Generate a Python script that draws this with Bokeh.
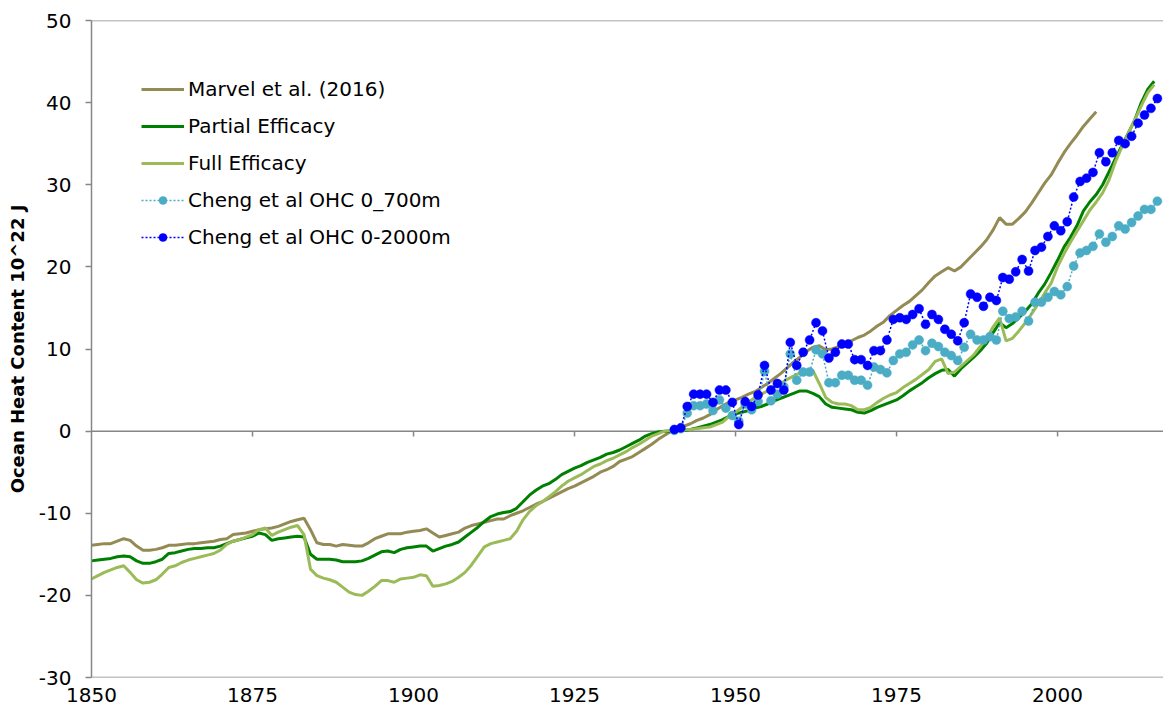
from bokeh.plotting import figure
from bokeh.models import Range1d, FixedTicker, Span, Legend, LegendItem
from bokeh.embed import file_html
from bokeh.resources import INLINE

# ---------------- data ----------------
marvel_years = list(range(1850, 2007))
marvel = [
    -13.9, -13.8, -13.7, -13.7, -13.4, -13.1, -13.3, -14.0, -14.5, -14.5,
    -14.4, -14.2, -13.9, -13.9, -13.8, -13.7, -13.7, -13.6, -13.5, -13.4,
    -13.2, -13.1, -12.6, -12.5, -12.4, -12.2, -12.0, -11.9, -11.8, -11.6,
    -11.3, -11.0, -10.8, -10.6, -12.0, -13.6, -13.8, -13.8, -14.0, -13.8,
    -13.9, -14.0, -14.0, -13.6, -13.1, -12.8, -12.5, -12.5, -12.5, -12.3,
    -12.2, -12.1, -11.9, -12.4, -12.9, -12.7, -12.5, -12.3, -11.8, -11.5,
    -11.3, -11.1, -10.9, -10.7, -10.7, -10.3, -10.0, -9.7, -9.3, -8.9,
    -8.6, -8.2, -7.8, -7.4, -7.0, -6.7, -6.3, -5.9, -5.5, -5.0,
    -4.7, -4.3, -3.7, -3.4, -3.1, -2.6, -2.1, -1.6, -1.0, -0.5,
    0.0, 0.2, 0.6, 0.9, 1.3, 1.6, 2.0, 2.6, 3.1, 3.5,
    3.8, 4.1, 4.5, 4.8, 5.3, 5.8, 6.4, 7.0, 7.7, 8.4,
    9.0, 9.7, 10.2, 10.4, 9.9, 10.0, 10.3, 10.6, 11.0, 11.4,
    11.7, 12.2, 12.8, 13.3, 14.1, 14.7, 15.3, 15.8, 16.5, 17.2,
    18.1, 18.9, 19.4, 19.9, 19.5, 20.0, 20.8, 21.6, 22.4, 23.3,
    24.5, 26.0, 25.2, 25.2, 25.9, 26.7, 27.8, 29.0, 30.2, 31.2,
    32.6, 33.9, 35.0, 36.0, 37.1, 38.0, 38.9,
]

model_years = list(range(1850, 2016))
partial = [
    -15.8, -15.7, -15.6, -15.5, -15.3, -15.2, -15.3, -15.8, -16.1, -16.1,
    -15.9, -15.6, -14.9, -14.8, -14.6, -14.4, -14.3, -14.3, -14.2, -14.2,
    -14.0, -13.7, -13.4, -13.2, -13.0, -12.8, -12.4, -12.6, -13.3, -13.1,
    -13.0, -12.9, -12.8, -12.9, -15.0, -15.6, -15.6, -15.6, -15.7, -15.9,
    -15.9, -15.9, -15.8, -15.5, -15.1, -14.7, -14.6, -14.8, -14.4, -14.2,
    -14.1, -14.0, -14.0, -14.6, -14.3, -14.0, -13.8, -13.5, -12.9, -12.3,
    -11.7, -11.0, -10.4, -10.1, -9.9, -9.8, -9.4, -8.6, -7.8, -7.2,
    -6.7, -6.4, -5.9, -5.3, -4.9, -4.5, -4.2, -3.8, -3.5, -3.2,
    -2.8, -2.6, -2.3, -1.9, -1.5, -1.1, -0.6, -0.3, -0.1, 0.0,
    0.0, 0.1, 0.1, 0.2, 0.4, 0.6, 0.8, 1.1, 1.4, 1.8,
    2.1, 2.3, 2.5, 2.8, 3.0, 3.3, 3.7, 4.0, 4.3, 4.6,
    4.9, 4.9, 4.6, 4.2, 3.3, 2.9, 2.8, 2.7, 2.6, 2.3,
    2.2, 2.5, 2.9, 3.2, 3.5, 3.8, 4.3, 4.9, 5.4, 5.9,
    6.5, 7.0, 7.4, 7.5, 6.7, 7.6, 8.3, 9.0, 9.8, 10.7,
    12.0, 13.2, 12.6, 13.1, 13.8, 14.6, 15.5, 16.8, 17.9, 19.3,
    20.8, 22.4, 23.6, 25.0, 26.8, 27.9, 28.8, 30.0, 31.6, 33.2,
    34.8, 36.3, 37.9, 40.0, 41.6, 42.6,
]
full = [
    -18.0, -17.6, -17.2, -16.9, -16.6, -16.4, -17.2, -18.1, -18.5, -18.4,
    -18.1, -17.4, -16.6, -16.4, -16.0, -15.7, -15.5, -15.3, -15.1, -14.9,
    -14.5, -13.8, -13.4, -13.2, -12.9, -12.6, -12.0, -11.8, -12.7, -12.3,
    -12.0, -11.7, -11.5, -12.6, -16.8, -17.6, -17.9, -18.1, -18.4, -19.0,
    -19.6, -19.9, -20.0, -19.5, -18.9, -18.2, -18.2, -18.4, -18.0, -17.9,
    -17.8, -17.5, -17.6, -18.9, -18.8, -18.6, -18.3, -17.8, -17.2, -16.3,
    -15.2, -14.1, -13.7, -13.5, -13.3, -13.1, -12.2, -10.8, -9.8, -9.1,
    -8.6, -8.0, -7.4, -6.7, -6.1, -5.7, -5.3, -4.8, -4.3, -4.0,
    -3.6, -3.3, -2.9, -2.5, -2.0, -1.6, -1.1, -0.6, -0.3, 0.0,
    0.1, 0.2, 0.2, 0.2, 0.3, 0.4, 0.5, 0.8, 1.1, 1.8,
    2.3, 2.9, 3.5, 4.1, 4.5, 4.9, 5.4, 5.8, 6.3, 6.7,
    7.1, 7.4, 7.4, 5.8, 4.1, 3.5, 3.3, 3.3, 3.1, 2.6,
    2.6, 2.9, 3.5, 4.0, 4.4, 4.7, 5.3, 5.8, 6.3, 6.9,
    7.5, 8.5, 8.8, 7.0, 7.2, 7.9, 8.6, 9.3, 10.3, 11.3,
    12.7, 13.8, 11.0, 11.3, 12.2, 13.2, 14.3, 15.5, 16.8, 18.0,
    20.0, 21.6, 23.0, 24.3, 25.6, 26.9, 27.9, 29.0, 30.6, 32.8,
    34.6, 36.3, 37.9, 39.6, 41.2, 42.2,
]

cheng_years = list(range(1940, 2016))
cheng_700 = [
    0.1, 0.3, 2.2, 3.1, 3.1, 3.3, 2.5, 3.8, 2.8, 1.9,
    1.2, 3.3, 2.6, 3.6, 7.3, 3.7, 4.5, 5.4, 9.4, 6.2,
    7.2, 7.2, 9.9, 9.4, 5.9, 5.9, 6.8, 6.8, 6.2, 6.2,
    5.6, 7.8, 7.5, 7.1, 8.6, 9.4, 9.6, 10.5, 11.1, 9.8,
    10.7, 10.3, 9.6, 9.2, 8.6, 10.2, 11.8, 11.1, 11.1, 11.5,
    11.1, 14.6, 13.7, 13.9, 14.6, 13.4, 15.7, 15.7, 16.3, 17.0,
    16.6, 17.6, 20.1, 21.7, 22.0, 22.5, 24.0, 23.0, 23.7, 25.0,
    24.6, 25.4, 26.2, 27.0, 27.0, 28.0,
]
cheng_2000 = [
    0.2, 0.4, 3.0, 4.5, 4.5, 4.5, 3.5, 5.0, 5.0, 3.5,
    0.8, 3.6, 3.0, 4.4, 8.0, 5.0, 5.8, 5.0, 10.8, 8.0,
    9.6, 11.1, 13.2, 12.2, 8.9, 9.6, 10.6, 10.6, 8.7, 8.7,
    8.0, 9.8, 9.8, 11.1, 13.6, 13.8, 13.6, 14.2, 14.9, 13.0,
    14.2, 13.6, 12.4, 11.8, 11.0, 13.2, 16.7, 16.3, 15.2, 16.3,
    15.9, 18.7, 18.5, 19.4, 20.9, 19.5, 22.0, 22.4, 23.7, 25.0,
    24.4, 25.5, 28.5, 30.4, 30.8, 31.5, 33.9, 32.8, 33.9, 35.4,
    35.0, 35.9, 37.5, 38.5, 39.3, 40.5,
]

x_ticks = [1850, 1875, 1900, 1925, 1950, 1975, 2000]
y_ticks = [-30, -20, -10, 0, 10, 20, 30, 40, 50]
y_tick_labels = ["-30", "-20", "-10", "0", "10", "20", "30", "40", "50"]

labels = ["Marvel et al. (2016)", "Partial Efficacy", "Full Efficacy",
          "Cheng et al OHC 0_700m", "Cheng et al OHC 0-2000m"]

# ---------------- figure ----------------
FONT = "DejaVu Sans"
AXIS_GRAY = "#868686"

p = figure(width=1163, height=715, output_backend="svg", toolbar_location=None,
           x_range=Range1d(1850, 2016.45), y_range=Range1d(-30, 50),
           min_border_left=91, min_border_right=0, min_border_top=20,
           min_border_bottom=38)
p.xgrid.visible = False
p.ygrid.visible = False
p.outline_line_color = None
p.background_fill_color = "white"
p.border_fill_color = "white"

# x axis: labels only at bottom
xa = p.xaxis[0]
xa.ticker = FixedTicker(ticks=x_ticks)
xa.axis_line_color = None
xa.major_tick_line_color = None
xa.minor_tick_line_color = None
xa.major_tick_out = 0
xa.major_tick_in = 0
xa.major_label_standoff = 10
xa.major_label_text_font = FONT
xa.major_label_text_font_size = "20px"
xa.major_label_text_color = "#000000"

# y axis
ya = p.yaxis[0]
ya.ticker = FixedTicker(ticks=y_ticks)
ya.major_label_overrides = {t: s for t, s in zip(y_ticks, y_tick_labels)}
ya.axis_line_color = AXIS_GRAY
ya.axis_line_width = 1.5
ya.major_tick_line_color = AXIS_GRAY
ya.major_tick_line_width = 1.5
ya.minor_tick_line_color = None
ya.major_tick_out = 6
ya.major_tick_in = 0
ya.major_label_standoff = 14
ya.major_label_text_font = FONT
ya.major_label_text_font_size = "20px"
ya.major_label_text_color = "#000000"
ya.axis_label = "Ocean Heat Content 10^22 J"
ya.axis_label_text_font = FONT
ya.axis_label_text_font_size = "18px"
ya.axis_label_text_font_style = "bold"
ya.axis_label_text_color = "#000000"
ya.axis_label_standoff = 8

# frame lines (top, bottom) and the zero line
for yv in (50, -30, 0):
    p.add_layout(Span(location=yv, dimension="width", line_color=AXIS_GRAY,
                      line_width=1.5, level="underlay"))
# tick marks on the zero line
p.segment(x0=x_ticks[1:], y0=[0] * (len(x_ticks) - 1),
          x1=x_ticks[1:], y1=[-0.65] * (len(x_ticks) - 1),
          line_color=AXIS_GRAY, line_width=1.5, level="underlay")

# ---------------- series ----------------
cheng_x = [y + 0.5 for y in cheng_years]

r_marvel = p.line(marvel_years, marvel, line_color="#948A54", line_width=3)
r_partial = p.line(model_years, partial, line_color="#008000", line_width=3)
r_full = p.line(model_years, full, line_color="#9BBB59", line_width=3)

r_c7_line = p.line(cheng_x, cheng_700, line_color="#4BACC6", line_width=1.5,
                   line_dash="2 2")
r_c7_pts = p.scatter(cheng_x, cheng_700, size=9, fill_color="#4BACC6",
                     line_color="#4BACC6", line_alpha=0.5, line_width=1)
r_c20_line = p.line(cheng_x, cheng_2000, line_color="#0000FF", line_width=1.5,
                    line_dash="2 2")
r_c20_pts = p.scatter(cheng_x, cheng_2000, size=9, fill_color="#0000FF",
                      line_color="#0000FF", line_alpha=0.5, line_width=1)

legend = Legend(items=[
    LegendItem(label=labels[0], renderers=[r_marvel]),
    LegendItem(label=labels[1], renderers=[r_partial]),
    LegendItem(label=labels[2], renderers=[r_full]),
    LegendItem(label=labels[3], renderers=[r_c7_line, r_c7_pts]),
    LegendItem(label=labels[4], renderers=[r_c20_line, r_c20_pts]),
])
legend.location = (50, 428)
legend.padding = 0
legend.margin = 0
legend.spacing = 13
legend.glyph_width = 43
legend.glyph_height = 20
legend.label_height = 20
legend.label_standoff = 4
legend.label_text_font = FONT
legend.label_text_font_size = "20px"
legend.label_text_color = "#000000"
legend.border_line_color = None
legend.background_fill_alpha = 0
p.add_layout(legend)

open("out.html", "w").write(file_html(p, INLINE))
